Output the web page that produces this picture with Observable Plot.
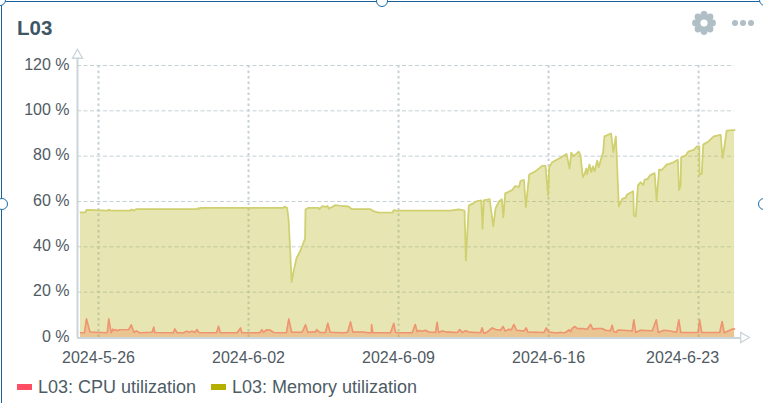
<!DOCTYPE html>
<html>
<head>
<meta charset="utf-8">
<script src="https://cdn.jsdelivr.net/npm/d3@7"></script>
<script src="https://cdn.jsdelivr.net/npm/@observablehq/plot@0.6"></script>
<style>
html,body{margin:0;padding:0;background:#fff;overflow:hidden}
#card{position:relative;width:763px;height:403px;overflow:hidden;font-family:"Liberation Sans",Arial,sans-serif;box-sizing:border-box}
#frame{position:absolute;left:1px;top:1px;right:-5px;bottom:-4px;border:2px solid #1c6199;border-width:1.5px 0 0 1.5px;box-sizing:border-box;pointer-events:none}
.h{position:absolute;width:10px;height:10px;border:1.6px solid #1c6ea8;border-radius:50%;background:#fff;z-index:3}
#title{height:46px;box-sizing:border-box;padding:16px 0 0 17px;font-size:20.5px;font-weight:bold;color:#3f5666;line-height:23px}
#chart{height:324px}
#chart svg{display:block}
#legend{position:relative;height:33px;font-size:18px;color:#4d5c66}
#legend .s{position:absolute;top:14px;width:15px;height:6px}
#legend .t{position:absolute;top:7px;line-height:20px;white-space:nowrap}
#icons{position:absolute;left:690px;top:10px}
</style>
</head>
<body>
<div id="card">
  <div id="frame"></div>
  <div class="h" style="left:-6px;top:-6px"></div>
  <div class="h" style="left:376.4px;top:-5px"></div>
  <div class="h" style="left:759px;top:-6px"></div>
  <div class="h" style="left:-4px;top:198.4px"></div>
  <div class="h" style="left:757.6px;top:198.4px"></div>
  <div id="title">L03</div>
  <svg id="icons" width="70" height="28" viewBox="0 0 70 28">
    <g fill="#b0bec5">
      <circle cx="14" cy="4.5" r="3.4"/><circle cx="14" cy="21.5" r="3.4"/>
      <circle cx="5.5" cy="13" r="3.4"/><circle cx="22.5" cy="13" r="3.4"/>
      <circle cx="8" cy="7" r="3.4"/><circle cx="20" cy="7" r="3.4"/>
      <circle cx="8" cy="19" r="3.4"/><circle cx="20" cy="19" r="3.4"/>
      <circle cx="14" cy="13" r="8"/>
      <circle cx="45" cy="13" r="3"/><circle cx="53" cy="13" r="3"/><circle cx="61" cy="13" r="3"/>
    </g>
    <circle cx="14" cy="13" r="3.6" fill="#fff"/>
  </svg>
  <div id="chart"></div>
  <div id="legend">
    <div class="s" style="left:17px;background:#ff4d64"></div>
    <div class="t" style="left:38px">L03: CPU utilization</div>
    <div class="s" style="left:211px;background:#b5b000"></div>
    <div class="t" style="left:232px">L03: Memory utilization</div>
  </div>
</div>
<script>
const baseDate = Date.UTC(2024, 4, 26);
const dayMs = 86400000;
const seriesNames = ["L03: CPU utilization", "L03: Memory utilization"];
const yTicks = [0, 20, 40, 60, 80, 100, 120];
const xTicks = ["2024-05-26", "2024-06-02", "2024-06-09", "2024-06-16", "2024-06-23"].map(d => new Date(d));

// days since 2024-05-26 and percent
const memDays = [-0.84,-0.61,-0.56,0.44,0.48,0.56,1.49,1.54,1.63,1.77,4.60,4.67,4.71,4.76,8.63,8.68,8.80,8.87,8.96,9.01,9.10,9.24,9.43,9.64,9.66,9.80,10.27,10.31,10.45,10.59,10.69,10.75,11.06,11.29,11.67,11.81,12.69,12.83,13.07,13.72,13.78,13.95,14,16.43,16.81,17.08,17.14,17.28,17.51,17.64,17.86,17.92,17.98,18.25,18.42,18.53,18.69,18.82,18.89,18.98,19.30,19.44,19.63,19.69,19.85,19.94,20.10,20.39,20.70,20.86,20.98,21.03,21.17,21.56,21.84,21.98,22.06,22.18,22.41,22.49,22.60,22.68,22.76,22.80,22.91,22.99,23.07,23.15,23.27,23.34,23.55,23.61,23.92,24.02,24.14,24.28,24.44,24.59,24.67,24.95,24.98,25.07,25.17,25.29,25.42,25.48,25.63,25.73,25.95,26.04,26.16,26.30,26.51,26.77,27.03,27.09,27.16,27.19,27.39,27.52,27.78,27.93,28.04,28.05,28.15,28.22,28.48,28.71,29.03,29.12,29.22,29.31,29.68];
const memValues = [55.2,55.2,56.3,56.0,56.4,56.0,56.0,56.5,56.0,56.6,56.6,57.1,56.7,57.2,57.2,57.8,57.2,52,35,24.5,29,35,38.5,43.6,56.5,57.2,57.2,56.6,58,57.6,58,56.8,58.4,58.1,57.8,56.6,56.6,55.8,55.1,55.1,56.2,55.9,56,56,56.5,56,34,58.2,59.3,60.1,60.5,48,60.5,61,49,57,60,61,53,63.6,65,66.8,66.5,69,69.5,57.5,71.9,73.3,75.7,75.7,62.6,75,77.3,79.3,81,74.5,81.5,80,82,80.2,70.7,72,74.5,72,76.3,73,75.5,73.3,78,75.1,81.8,88.7,90,81.8,88.7,57.8,61.2,61.6,63.1,64.5,53.8,53.4,67,68.5,67.3,69.5,70,71.5,72.5,60.4,74.1,74,76.3,77,78.4,65.1,67,79.5,80.2,82,82.8,84.3,84.3,71.9,72.2,85.1,86.6,88.7,89.4,79.1,85,91.3,91.5];

const cpuDays = [-0.84,-0.65,-0.56,-0.40,0.41,0.48,0.59,0.67,0.71,0.79,0.87,0.99,1.41,1.53,1.65,1.77,1.91,2.50,2.58,2.63,3.49,3.56,3.67,3.98,4.11,4.21,4.37,4.49,4.60,4.68,5.15,5.51,5.60,5.69,6.47,6.63,6.69,7.53,7.62,7.70,7.84,7.99,8.18,8.65,8.77,8.88,9.01,9.50,9.66,9.77,9.97,10.13,10.18,10.33,10.59,10.70,10.81,11.45,11.63,11.76,11.87,12.31,12.62,12.73,12.74,12.80,13.63,13.78,13.86,14.09,14.64,14.78,14.87,14.98,15.11,15.26,15.41,15.65,15.73,15.80,15.87,16.03,16.19,16.74,16.86,16.97,17.13,17.28,17.55,17.83,17.90,17.98,18.10,18.21,18.29,18.37,18.53,18.76,18.88,18.98,19.15,19.27,19.38,19.51,19.85,19.96,20.03,20.78,20.90,21.02,21.40,21.56,21.71,21.83,21.95,22.03,22.10,22.23,22.34,22.65,22.80,22.96,23.07,23.27,23.50,23.66,23.89,23.97,24.05,24.16,24.24,24.82,24.90,24.98,25.07,25.29,25.84,26.03,26.12,26.38,26.61,26.97,27.08,27.17,27.98,28.05,28.15,28.99,29.10,29.20,29.41,29.57,29.68];
const cpuValues = [2.1,2.1,8.2,2.4,2.1,8.2,2.1,3.7,3.0,3.5,3.0,3.4,3.5,5.6,2.3,2.9,2.1,2.3,4.6,2.2,2.1,3.8,2.1,2.1,2.8,2.3,2.8,2.2,3.5,2.2,2.1,2.1,5.0,2.1,2.1,4.25,2.1,2.1,3.5,2.3,3.4,3.3,2.2,2.1,2.1,8.2,2.3,2.3,5.6,2.2,2.5,2.4,3.5,2.2,2.2,6.3,2.3,2.1,2.3,6.9,2.4,2.4,2.1,2.1,5.75,2.1,2.1,6.3,2.2,2.1,2.1,5.75,2.6,3.1,2.8,3.2,2.4,2.3,2.2,6.75,2.2,2.9,2.5,2.2,3.5,2.2,3.0,2.4,2.2,2.2,4.25,1.9,2.2,2.9,3.6,4.25,3.5,3.2,4.85,2.8,3.6,3.4,5.75,3.2,2.9,4.25,2.4,2.2,4.25,2.4,2.0,2.3,2.0,2.4,3.4,2.6,4.0,4.85,4.0,3.9,3.6,5.75,3.7,4.0,4.0,3.2,3.0,5.45,2.5,2.3,3.3,3.0,2.8,7.8,2.2,3.2,3.0,7.8,2.2,3.2,3.0,2.3,7.8,2.2,2.2,7.8,2.2,2.2,7.05,2.1,3.0,3.7,3.7];

const toDate = d => new Date(baseDate + d * dayMs);
const rows = (days, vals) => days.map((d, i) => ({t: toDate(d), v: vals[i]}));
const mem = rows(memDays, memValues);
const cpu = rows(cpuDays, cpuValues);

const xStart = toDate(-0.98), xEnd = toDate(30.33), gridEnd = toDate(29.68);
const axisColor = "#cbd5da", gridColor = "#c6d0d5";
const tickFmt = d3.utcFormat("%Y-%-m-%d");

const chart = Plot.plot({
  width: 763, height: 324,
  marginLeft: 77, marginRight: 15, marginTop: 19, marginBottom: 33,
  style: {fontFamily: '"Liberation Sans",Arial,sans-serif', fontSize: "16px", color: "#4f5a62", background: "transparent", overflow: "visible"},
  x: {type: "utc", domain: [xStart, xEnd]},
  y: {domain: [0, 120]},
  marks: [
    Plot.ruleY(yTicks.slice(1), {y: d => d, x1: () => xStart, x2: () => gridEnd, stroke: gridColor, strokeWidth: 1, strokeDasharray: "4,2.5"}),
    Plot.ruleX(xTicks, {x: d => d, y1: 0, y2: 120, stroke: gridColor, strokeWidth: 2, strokeDasharray: "2.5,3"}),
    Plot.areaY(mem, {x: "t", y: "v", fill: "#b8b520", fillOpacity: 0.34, curve: "linear"}),
    Plot.lineY(mem, {x: "t", y: "v", stroke: "#d0d070", strokeWidth: 1.8, curve: "linear"}),
    Plot.areaY(cpu, {x: "t", y: "v", fill: "#f0804a", fillOpacity: 0.32, curve: "linear"}),
    Plot.lineY(cpu, {x: "t", y: "v", stroke: "#ee9470", strokeWidth: 1.6, curve: "linear"}),
    Plot.ruleX([xStart], {x: d => d, y1: 0, y2: 124, stroke: axisColor, strokeWidth: 2}),
    Plot.ruleY([0], {y: d => d, x1: () => xStart, x2: () => toDate(29.98), stroke: axisColor, strokeWidth: 2, dy: 0.5}),
    Plot.dot([xStart], {x: d => d, y: () => 124.5, symbol: "triangle", r: 3.8, stroke: axisColor, fill: "#fff", strokeWidth: 1.3}),
    Plot.dot([toDate(30.1)], {x: d => d, y: () => 0, symbol: "triangle", rotate: 90, r: 3.8, stroke: axisColor, fill: "#fff", strokeWidth: 1.3}),
    Plot.axisY({ticks: yTicks, tickFormat: d => d + " %", tickSize: 0, tickPadding: 8, label: null, fill: "#4f5a62", dy: -1}),
    Plot.axisX({ticks: xTicks.slice(0, -1), tickFormat: tickFmt, tickSize: 0, tickPadding: 14, label: null, fill: "#4f5a62"}),
    Plot.axisX({ticks: xTicks.slice(-1), tickFormat: tickFmt, tickSize: 0, tickPadding: 14, label: null, fill: "#4f5a62", dx: -16})
  ]
});
document.getElementById("chart").appendChild(chart);
</script>
</body>
</html>
